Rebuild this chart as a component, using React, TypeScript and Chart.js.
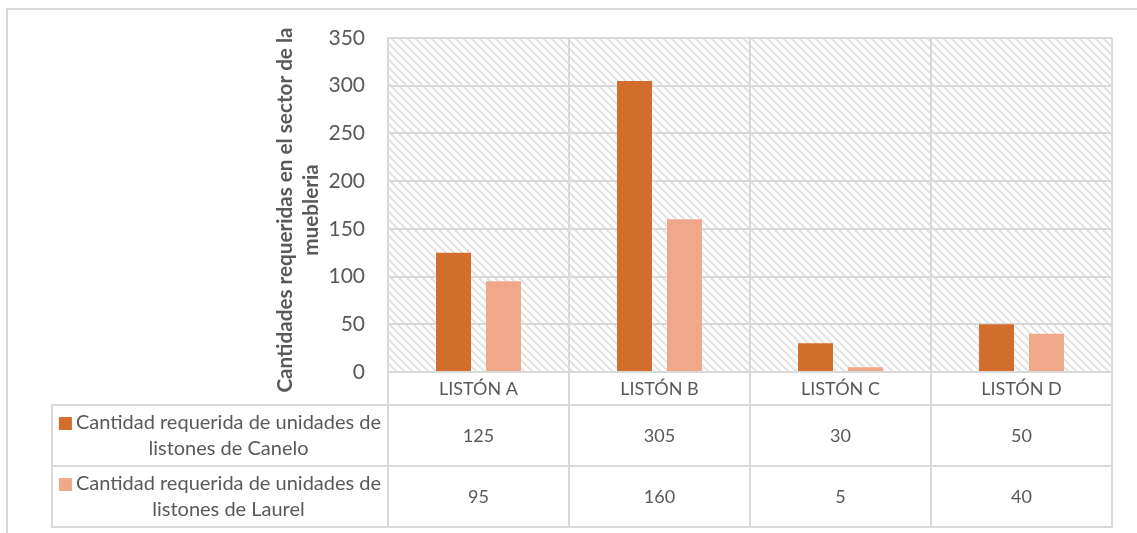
import React, { useEffect, useRef } from 'react';
import { Chart, registerables } from 'chart.js';

Chart.register(...registerables);

const categories = ['LISTÓN A', 'LISTÓN B', 'LISTÓN C', 'LISTÓN D'];
const caneloValues = [125, 305, 30, 50];
const laurelValues = [95, 160, 5, 40];
const caneloName = ['Cantidad requerida de unidades de', 'listones de Canelo'];
const laurelName = ['Cantidad requerida de unidades de', 'listones de Laurel'];
const yTitleLines = ['Cantidades requeridas en el sector de la', 'muebleria'];
const yMin = 0;
const yMax = 350;
const yStep = 50;

const CANELO = '#D26E2B';
const LAUREL = '#F1A88A';
const GRID = '#d9d9d9';
const TEXT = '#595959';
const FONT = 'Lato, "Open Sans", sans-serif';

function makePattern(ctx: CanvasRenderingContext2D) {
  const c = document.createElement('canvas');
  c.width = 8;
  c.height = 8;
  const p = c.getContext('2d')!;
  p.fillStyle = '#ffffff';
  p.fillRect(0, 0, 8, 8);
  p.fillStyle = '#e3e3e3';
  for (let y = 0; y < 8; y++) {
    for (let x = 0; x < 8; x++) {
      const d = (((x - y) % 8) + 8) % 8;
      if (d < 3) p.fillRect(x, y, 1, 1);
    }
  }
  return ctx.createPattern(c, 'repeat')!;
}

const tablePlugin = {
  id: 'excelTable',
  beforeDraw(chart: any) {
    const { ctx, chartArea: a } = chart;
    ctx.save();
    ctx.fillStyle = makePattern(ctx);
    ctx.fillRect(a.left, a.top, a.right - a.left, a.bottom - a.top);
    ctx.restore();
  },
  afterDraw(chart: any) {
    const { ctx, chartArea: a, scales } = chart;
    const x = scales.x;
    const n = categories.length;
    const w = (x.right - x.left) / n;
    const headTop = a.bottom;
    const r0 = x.bottom;
    const rowH = 61;
    const r1 = r0 + rowH;
    const r2 = r1 + rowH;
    const tableLeft = 52;

    ctx.save();
    ctx.strokeStyle = GRID;
    ctx.lineWidth = 2;
    ctx.beginPath();
    [r0, r1, r2].forEach((y) => {
      ctx.moveTo(tableLeft - 1, y);
      ctx.lineTo(x.right + 1, y);
    });
    for (let i = 0; i <= n; i++) {
      const px = Math.round(x.left + i * w);
      ctx.moveTo(px, headTop);
      ctx.lineTo(px, r2);
    }
    ctx.moveTo(tableLeft, r0);
    ctx.lineTo(tableLeft, r2);
    // outer chart border
    ctx.moveTo(6, 9);
    ctx.lineTo(1137, 9);
    ctx.moveTo(7, 8);
    ctx.lineTo(7, 533);
    ctx.stroke();

    ctx.textBaseline = 'middle';
    const rows = [
      { top: r0, vals: caneloValues, name: caneloName, color: CANELO },
      { top: r1, vals: laurelValues, name: laurelName, color: LAUREL },
    ];
    rows.forEach((row) => {
      ctx.fillStyle = TEXT;
      ctx.font = `18px ${FONT}`;
      ctx.textAlign = 'center';
      row.vals.forEach((v, i) => {
        ctx.fillText(String(v), x.getPixelForValue(i), row.top + rowH / 2 + 1);
      });
      // legend cell
      ctx.font = `20px ${FONT}`;
      const cellCenter = (tableLeft + x.left) / 2;
      const sq = 13;
      const gap = 4;
      const tw = ctx.measureText(row.name[0]).width;
      const total = sq + gap + tw;
      const sx = cellCenter - total / 2;
      const y1 = row.top + 18;
      const y2 = row.top + 44;
      ctx.fillStyle = row.color;
      ctx.fillRect(sx, y1 - 6, sq, sq);
      ctx.fillStyle = TEXT;
      ctx.textAlign = 'left';
      ctx.fillText(row.name[0], sx + sq + gap, y1);
      ctx.textAlign = 'center';
      ctx.fillText(row.name[1], cellCenter + (sq + gap) / 2, y2);
    });

    // y axis title
    ctx.font = `bold 20.7px ${FONT}`;
    ctx.fillStyle = TEXT;
    ctx.textAlign = 'center';
    ctx.textBaseline = 'middle';
    const cy = (a.top + a.bottom) / 2 + 5;
    const xs = [a.left - 103, a.left - 77];
    yTitleLines.forEach((line, i) => {
      ctx.save();
      ctx.translate(xs[i], cy);
      ctx.rotate(-Math.PI / 2);
      ctx.fillText(line, 0, 0);
      ctx.restore();
    });
    ctx.restore();
  },
};

export default function App() {
  const ref = useRef<HTMLCanvasElement>(null);
  useEffect(() => {
    if (!ref.current) return;
    const chart = new Chart(ref.current, {
      type: 'bar',
      data: {
        labels: categories,
        datasets: [
          {
            label: caneloName.join(' '),
            data: caneloValues,
            backgroundColor: CANELO,
            categoryPercentage: 0.552,
            barPercentage: 0.7,
          },
          {
            label: laurelName.join(' '),
            data: laurelValues,
            backgroundColor: LAUREL,
            categoryPercentage: 0.552,
            barPercentage: 0.7,
          },
        ],
      },
      options: {
        responsive: false,
        animation: false,
        devicePixelRatio: 1,
        layout: { padding: { left: 0, right: 25, top: 38, bottom: 128 } },
        plugins: { legend: { display: false }, tooltip: { enabled: false } },
        scales: {
          x: {
            grid: { color: GRID, lineWidth: 2, drawTicks: false, offset: true },
            border: { color: GRID, width: 2 },
            ticks: { color: TEXT, font: { family: FONT, size: 18 }, padding: 6, maxRotation: 0 },
            afterFit: (s: any) => {
              s.height = 33;
            },
          },
          y: {
            min: yMin,
            max: yMax,
            grid: { color: GRID, lineWidth: 2, drawTicks: false },
            border: { color: GRID, width: 2 },
            ticks: { stepSize: yStep, color: TEXT, font: { family: FONT, size: 21 }, padding: 23 },
            afterFit: (s: any) => {
              s.width = 388;
            },
          },
        },
      },
      plugins: [tablePlugin],
    });
    return () => chart.destroy();
  }, []);
  return (
    <div style={{ position: 'absolute', left: 0, top: 0, width: 1137, height: 533, background: '#fff' }}>
      <canvas ref={ref} width={1137} height={533} />
    </div>
  );
}
